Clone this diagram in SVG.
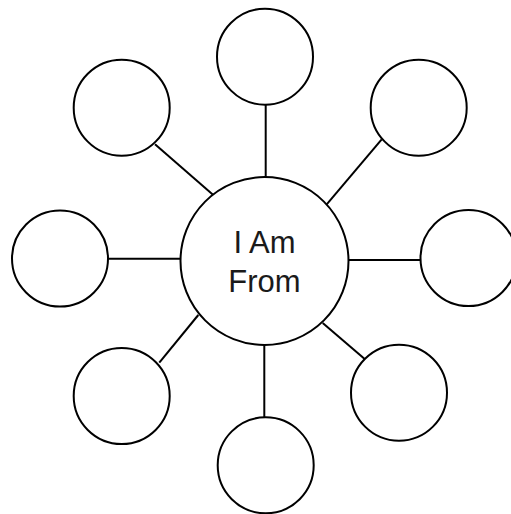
<svg xmlns="http://www.w3.org/2000/svg" width="511" height="514" viewBox="0 0 511 514">
  <style>
    .node circle { fill: #ffffff; stroke: #000000; stroke-width: 2; }
    .conn line { stroke: #000000; stroke-width: 2; }
    .label { font-family: "Liberation Sans", Arial, sans-serif; font-size: 31px; fill: #1a1a1a; text-anchor: middle; }
  </style>
  <rect width="511" height="514" fill="#ffffff"/>
  <g id="connectors" class="conn">
    <line x1="265.7" y1="105" x2="265.7" y2="177.5"/>
    <line x1="155" y1="144.3" x2="212.7" y2="194.5"/>
    <line x1="381.7" y1="139.3" x2="326.7" y2="204.3"/>
    <line x1="108" y1="258.7" x2="181" y2="258.7"/>
    <line x1="348" y1="260" x2="421" y2="260"/>
    <line x1="159.3" y1="362.7" x2="198.3" y2="315"/>
    <line x1="322.7" y1="323" x2="365" y2="359.3"/>
    <line x1="264.3" y1="345" x2="264.3" y2="417.5"/>
  </g>
  <g id="center" class="node">
    <circle cx="264.5" cy="261" r="84"/>
    <text class="label" x="264.5" y="252.5">I Am</text>
    <text class="label" x="264.5" y="291.5">From</text>
  </g>
  <g id="n-top" class="node"><circle cx="265" cy="56.7" r="48"/></g>
  <g id="n-topleft" class="node"><circle cx="121.7" cy="107.7" r="48"/></g>
  <g id="n-topright" class="node"><circle cx="418.7" cy="107.7" r="48"/></g>
  <g id="n-left" class="node"><circle cx="60" cy="258.5" r="48"/></g>
  <g id="n-right" class="node"><circle cx="468.5" cy="258" r="48"/></g>
  <g id="n-bottomleft" class="node"><circle cx="121.7" cy="396" r="48"/></g>
  <g id="n-bottomright" class="node"><circle cx="399" cy="392.7" r="48"/></g>
  <g id="n-bottom" class="node"><circle cx="265.7" cy="465.3" r="48"/></g>
</svg>
